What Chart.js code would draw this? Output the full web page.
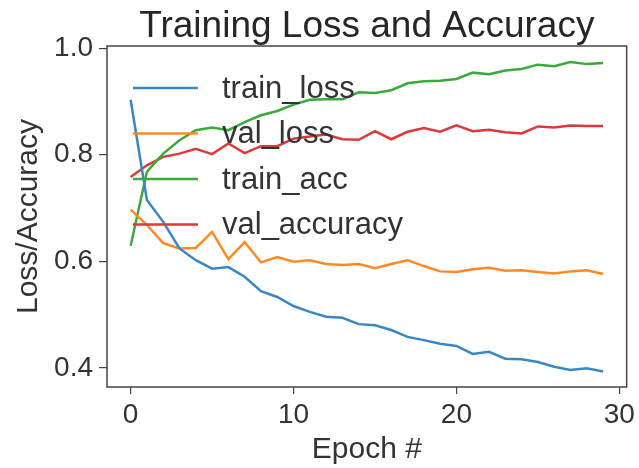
<!DOCTYPE html>
<html>
<head>
<meta charset="utf-8">
<script src="https://cdn.jsdelivr.net/npm/chart.js@4"></script>
<style>
  body { margin: 0; background: #fff; }
  #wrap { width: 639px; height: 468px; }
</style>
</head>
<body>
<div id="wrap"><canvas id="lossChart"></canvas></div>
<script>
const epochs = [0, 1, 2, 3, 4, 5, 6, 7, 8, 9, 10, 11, 12, 13, 14, 15, 16, 17, 18, 19, 20, 21, 22, 23, 24, 25, 26, 27, 28, 29];
const trainLoss = [0.903, 0.715, 0.674, 0.624, 0.602, 0.586, 0.589, 0.571, 0.544, 0.533, 0.516, 0.505, 0.496, 0.494, 0.482, 0.480, 0.471, 0.458, 0.452, 0.445, 0.441, 0.426, 0.430, 0.417, 0.416, 0.411, 0.402, 0.396, 0.399, 0.393];
const valLoss = [0.697, 0.668, 0.634, 0.624, 0.625, 0.655, 0.604, 0.636, 0.598, 0.608, 0.599, 0.602, 0.595, 0.593, 0.595, 0.587, 0.595, 0.602, 0.591, 0.581, 0.580, 0.585, 0.588, 0.582, 0.583, 0.580, 0.577, 0.581, 0.583, 0.576];
const trainAcc = [0.629, 0.768, 0.802, 0.827, 0.846, 0.851, 0.846, 0.861, 0.874, 0.882, 0.894, 0.903, 0.904, 0.904, 0.917, 0.916, 0.921, 0.934, 0.938, 0.939, 0.942, 0.954, 0.951, 0.958, 0.961, 0.969, 0.966, 0.974, 0.970, 0.972];
const valAcc = [0.758, 0.780, 0.796, 0.802, 0.811, 0.801, 0.821, 0.803, 0.816, 0.816, 0.830, 0.834, 0.838, 0.829, 0.828, 0.844, 0.829, 0.843, 0.850, 0.843, 0.855, 0.844, 0.847, 0.842, 0.840, 0.853, 0.851, 0.855, 0.854, 0.854];
const seriesNames = ['train_loss', 'val_loss', 'train_acc', 'val_accuracy'];
const seriesColors = ['#3a87c6', '#ff8a24', '#3aaa3a', '#db3a3b'];
const xTicks = [0, 10, 20, 30];
const yTicks = [0.4, 0.6, 0.8, 1.0];
const chartTitle = 'Training Loss and Accuracy';

const FONT = 'Liberation Sans';
const TEXT = '#333333';

function toPoints(values) {
    return values.map((v, i) => ({ x: epochs[i], y: v }));
}

const allSeries = [trainLoss, valLoss, trainAcc, valAcc];
const datasets = allSeries.map((values, k) => ({
    label: seriesNames[k],
    data: toPoints(values),
    borderColor: seriesColors[k],
    backgroundColor: seriesColors[k],
    borderWidth: 2.5,
    pointRadius: 0,
    tension: 0,
    fill: false,
}));

// matplotlib-ish legend, no frame, upper left inside axes
const innerLegend = {
    id: 'innerLegend',
    afterDatasetsDraw(chart) {
        const { ctx, chartArea } = chart;
        ctx.save();
        ctx.font = '31px "' + FONT + '"';
        ctx.textBaseline = 'middle';
        ctx.fillStyle = TEXT;
        chart.data.datasets.forEach((ds, i) => {
            const y = chartArea.top + 42 + i * 45.5;
            const x0 = chartArea.left + 26;
            ctx.strokeStyle = ds.borderColor;
            ctx.lineWidth = ds.borderWidth;
            ctx.beginPath();
            ctx.moveTo(x0, y);
            ctx.lineTo(x0 + 65, y);
            ctx.stroke();
            ctx.fillText(ds.label, x0 + 89, y + 1);
        });
        ctx.restore();
    }
};

// full frame around the axes + title centred over the axes (like matplotlib)
const frame = {
    id: 'frame',
    afterDraw(chart) {
        const { ctx, chartArea } = chart;
        ctx.save();
        ctx.strokeStyle = '#444';
        ctx.lineWidth = 1.5;
        ctx.strokeRect(chartArea.left, chartArea.top, chartArea.right - chartArea.left, chartArea.bottom - chartArea.top);
        ctx.font = '37px "' + FONT + '"';
        ctx.fillStyle = '#262626';
        ctx.textAlign = 'center';
        ctx.textBaseline = 'alphabetic';
        ctx.fillText(chartTitle, (chartArea.left + chartArea.right) / 2, chartArea.top - 9);
        ctx.restore();
    }
};

new Chart(document.getElementById('lossChart').getContext('2d'), {
    type: 'line',
    data: { datasets: datasets },
    plugins: [innerLegend, frame],
    options: {
        responsive: true,
        maintainAspectRatio: false,
        animation: false,
        layout: { padding: { left: 0, right: 8, top: 46, bottom: 0 } },
        plugins: {
            legend: { display: false },
            tooltip: { enabled: false },
            title: { display: false },
        },
        scales: {
            x: {
                type: 'linear',
                min: -1.45,
                max: 30.45,
                afterFit(scale) { scale.height = 81; },
                afterBuildTicks(scale) { scale.ticks = xTicks.map(v => ({ value: v })); },
                ticks: {
                    color: TEXT,
                    font: { family: FONT, size: 28 },
                    padding: 4,
                    maxRotation: 0,
                    callback: v => String(v),
                },
                grid: { drawOnChartArea: false, drawTicks: true, tickLength: 7, color: '#444', lineWidth: 1.2 },
                border: { display: false },
                title: {
                    display: true,
                    text: 'Epoch #',
                    color: TEXT,
                    font: { family: FONT, size: 30 },
                    padding: { top: 0, bottom: 0 },
                },
            },
            y: {
                min: 0.364,
                max: 1.004,
                afterFit(scale) { scale.width = 107; },
                afterBuildTicks(scale) { scale.ticks = yTicks.map(v => ({ value: v })); },
                ticks: {
                    color: TEXT,
                    font: { family: FONT, size: 28 },
                    padding: 6,
                    callback: v => v.toFixed(1),
                },
                grid: { drawOnChartArea: false, drawTicks: true, tickLength: 8, color: '#444', lineWidth: 1.2 },
                border: { display: false },
                title: {
                    display: true,
                    text: 'Loss/Accuracy',
                    color: TEXT,
                    font: { family: FONT, size: 30 },
                    padding: { top: 11, bottom: 0 },
                },
            },
        },
    },
});
</script>
</body>
</html>
